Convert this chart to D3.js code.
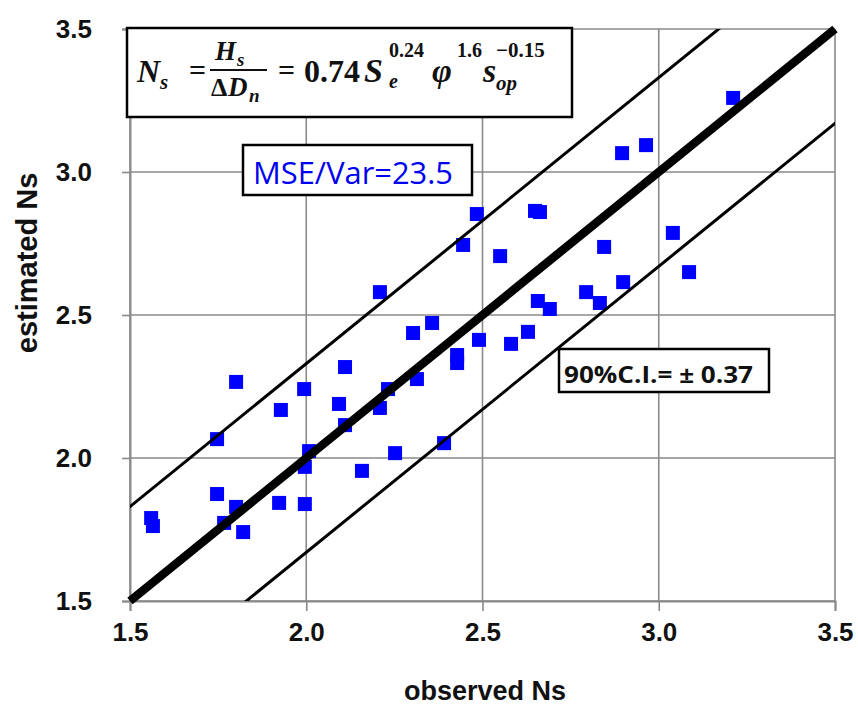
<!DOCTYPE html>
<html><head><meta charset="utf-8">
<script src="https://cdn.jsdelivr.net/npm/d3@7"></script>
<style>
html,body{margin:0;padding:0;background:#fff;}
svg{display:block;}
</style>
</head><body>
<svg id="chart" width="858" height="706"></svg>
<script>
// ---- data ----
const observedNs = [1.560,1.565,1.747,1.747,1.801,1.801,1.767,1.821,1.928,1.923,
  1.994,2.008,1.996,1.996,2.093,2.110,2.110,2.158,2.209,2.209,
  2.232,2.252,2.303,2.314,2.357,2.391,2.428,2.428,2.445,2.484,
  2.490,2.550,2.581,2.629,2.649,2.663,2.657,2.691,2.794,2.833,
  2.845,2.896,2.899,2.964,3.040,3.086,3.211];
const estimatedNs = [1.790,1.762,2.066,1.874,2.266,1.829,1.773,1.741,2.168,1.843,
  2.241,2.024,1.969,1.839,2.189,2.318,2.115,1.955,2.580,2.175,
  2.241,2.017,2.437,2.276,2.472,2.052,2.360,2.332,2.745,2.853,
  2.413,2.706,2.399,2.441,2.864,2.860,2.549,2.521,2.580,2.542,
  2.738,3.066,2.615,3.094,2.787,2.650,3.259];
const tickValues = [1.5, 2.0, 2.5, 3.0, 3.5];
const axisDomain = [1.5, 3.5];
const ciOffset = 0.33;           // band drawn around the 1:1 line
const xTitle = "observed Ns";
const yTitle = "estimated Ns";
const mseLabel = "MSE/Var=23.5";
const ciLabel = "90%C.I.= \u00B1 0.37";

// ---- layout ----
const svg = d3.select("#chart");
const L = 130, T = 29, R = 835, B = 601;
const x = d3.scaleLinear().domain(axisDomain).range([L, R]);
const y = d3.scaleLinear().domain(axisDomain).range([B, T]);
const gridColor = "#8a8a8a";

// grid
const g = svg.append("g");
g.selectAll("line.vg").data(tickValues).join("line")
  .attr("x1", d => x(d)).attr("x2", d => x(d))
  .attr("y1", T).attr("y2", B)
  .attr("stroke", gridColor).attr("stroke-width", 1.6);
g.selectAll("line.hg").data(tickValues).join("line")
  .attr("x1", L).attr("x2", R)
  .attr("y1", d => y(d)).attr("y2", d => y(d))
  .attr("stroke", gridColor).attr("stroke-width", 1.6);

// axes (ticks + labels)
const fmt = d3.format(".1f");
const xAxis = svg.append("g").attr("transform", `translate(0,${B})`)
  .call(d3.axisBottom(x).tickValues(tickValues).tickFormat(fmt).tickSize(10).tickPadding(12));
const yAxis = svg.append("g").attr("transform", `translate(${L},0)`)
  .call(d3.axisLeft(y).tickValues(tickValues).tickFormat(fmt).tickSize(8).tickPadding(30));
[xAxis, yAxis].forEach(a => {
  a.select(".domain").attr("stroke", gridColor).attr("stroke-width", 2);
  a.selectAll(".tick line").attr("stroke", gridColor).attr("stroke-width", 1.6);
  a.selectAll(".tick text").attr("fill", "#111")
    .style("font-family", "'Liberation Sans', Arial, sans-serif")
    .style("font-weight", "bold").style("font-size", "26px");
});

// points
const pts = observedNs.map((v, i) => ({o: v, e: estimatedNs[i]}));
const S = 14;
svg.append("g").selectAll("rect").data(pts).join("rect")
  .attr("x", d => x(d.o) - S/2).attr("y", d => y(d.e) - S/2)
  .attr("width", S).attr("height", S).attr("fill", "#0000ff");

// lines (clipped to plot)
svg.append("clipPath").attr("id", "plotclip").append("rect")
  .attr("x", L).attr("y", T).attr("width", R - L).attr("height", B - T);
const lg = svg.append("g").attr("clip-path", "url(#plotclip)");
const line = d3.line().x(d => x(d[0])).y(d => y(d[1]));
const xs = [axisDomain[0] - 1, axisDomain[1] + 1];
lg.append("path").datum(xs.map(v => [v, v + ciOffset])).attr("d", line)
  .attr("stroke", "#000").attr("stroke-width", 3).attr("fill", "none");
lg.append("path").datum(xs.map(v => [v, v - ciOffset])).attr("d", line)
  .attr("stroke", "#000").attr("stroke-width", 3).attr("fill", "none");
svg.append("path").datum(axisDomain.map(v => [v, v])).attr("d", line)
  .attr("stroke", "#000").attr("stroke-width", 8.5).attr("fill", "none");

// axis titles
svg.append("text").attr("x", 485).attr("y", 700).attr("text-anchor", "middle")
  .style("font-family", "'Liberation Sans', Arial, sans-serif").style("font-weight", "bold")
  .style("font-size", "27px").attr("fill", "#111").text(xTitle);
svg.append("text").attr("transform", "translate(37,263) rotate(-90)").attr("text-anchor", "middle")
  .style("font-family", "'Liberation Sans', Arial, sans-serif").style("font-weight", "bold")
  .style("font-size", "29px").attr("fill", "#111").text(yTitle);

// formula box
const fb = svg.append("g");
fb.append("rect").attr("x", 127).attr("y", 28).attr("width", 445).attr("height", 89)
  .attr("fill", "#fff").attr("stroke", "#000").attr("stroke-width", 2.5);
const ff = "'Liberation Serif', 'Times New Roman', serif";
function ft(tx, ty, s, size, italic) {
  fb.append("text").attr("x", tx).attr("y", ty).text(s)
    .style("font-family", ff).style("font-weight", "bold")
    .style("font-style", italic ? "italic" : "normal").style("font-size", size + "px").attr("fill", "#111");
}
ft(137, 82, "N", 32, true);
ft(160, 89, "s", 21, true);
ft(189, 80, "=", 30, false);
ft(215, 60, "H", 27, true);
ft(237, 66, "s", 19, true);
fb.append("line").attr("x1", 210).attr("x2", 267).attr("y1", 70).attr("y2", 70)
  .attr("stroke", "#111").attr("stroke-width", 2);
ft(211, 96, "\u0394", 26, false);
ft(228, 96, "D", 27, true);
ft(249, 102, "n", 19, true);
ft(278, 80, "=", 30, false);
ft(304, 82, "0.74", 32, false);
ft(364, 82, "S", 34, true);
ft(389, 57, "0.24", 20, false);
ft(389, 88, "e", 20, true);
ft(432, 82, "\u03C6", 34, true);
ft(457, 57, "1.6", 20, false);
ft(483, 82, "s", 34, true);
ft(496, 57, "\u22120.15", 21, false);
ft(496, 90, "op", 21, true);

// MSE box
svg.append("rect").attr("x", 243).attr("y", 145).attr("width", 229).attr("height", 50)
  .attr("fill", "#fff").attr("stroke", "#000").attr("stroke-width", 2.5);
svg.append("text").attr("x", 253).attr("y", 184).attr("textLength", 200).attr("lengthAdjust", "spacingAndGlyphs")
  .style("font-family", "'Open Sans', 'Noto Sans', sans-serif").style("font-size", "31px")
  .attr("fill", "#0000f0").text(mseLabel);

// CI box
svg.append("rect").attr("x", 559).attr("y", 349).attr("width", 210).attr("height", 43)
  .attr("fill", "#fff").attr("stroke", "#000").attr("stroke-width", 2.5);
svg.append("text").attr("x", 564).attr("y", 383).attr("textLength", 189).attr("lengthAdjust", "spacingAndGlyphs")
  .style("font-family", "'Open Sans', 'Noto Sans', sans-serif").style("font-weight", "bold").style("font-size", "24px")
  .attr("fill", "#111").text(ciLabel);
</script>
</body></html>
